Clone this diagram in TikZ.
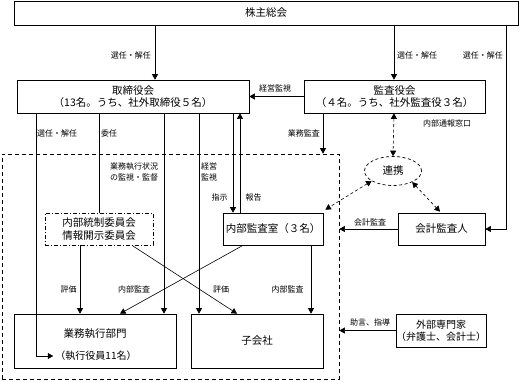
\documentclass[tikz,border=0pt]{standalone}
\usepackage{fontspec}
\setmainfont{Noto Sans CJK JP}
\usetikzlibrary{arrows.meta,shapes.geometric}
\begin{document}
\begin{tikzpicture}[x=1pt,y=-1pt,
 box/.style={draw,line width=0.7pt,rectangle,inner sep=0pt,align=center,font=\fontsize{10.5}{12.5}\selectfont},
 txt/.style={inner sep=0pt,align=center,font=\fontsize{10.5}{12.5}\selectfont},
 lab/.style={font=\fontsize{8}{11}\selectfont,inner sep=0pt,align=center},
 con/.style={line width=0.6pt},
 arr/.style={con,-{Triangle[length=5.5pt,width=6pt]}},
 darr/.style={con,dash pattern=on 3pt off 2.5pt,{Triangle[length=5.5pt,width=6pt]}-{Triangle[length=5.5pt,width=6pt]}},
]
\useasboundingbox (0,0) rectangle (519,381);
% group
\node[draw,line width=0.7pt,dash pattern=on 4pt off 3pt,minimum width=337pt,minimum height=225pt,inner sep=0pt] (grp) at (170.5,266.5) {};
% boxes
\node[box,minimum width=504pt,minimum height=24pt] (kabu) at (266,13) {株主総会};
\node[box,minimum width=232pt,minimum height=33pt] (tori) at (133,96.5) {取締役会\\（13名。うち、社外取締役５名）};
\node[box,minimum width=181pt,minimum height=33pt] (kansa) at (394.5,96.5) {監査役会\\（４名。うち、社外監査役３名）};
\node[box,minimum width=100pt,minimum height=32pt] (naibu) at (273,229) {内部監査室（３名）};
\node[box,dash pattern=on 4pt off 2pt on 1pt off 2pt,minimum width=108pt,minimum height=32pt] (tousei) at (99,229) {内部統制委員会\\情報開示委員会};
\node[box,minimum width=87pt,minimum height=32pt] (kaikei) at (441.5,229) {会計監査人};
\node[box,minimum width=162pt,minimum height=54pt] (gyomu) at (95,341) {};
\node[txt] (gyomut) at (95,334) {業務執行部門};
\node[txt,font=\fontsize{10}{12}\selectfont] (exec) at (96,356) {（執行役員11名）};
\node[box,minimum width=132pt,minimum height=54pt] (kogai) at (257,341) {子会社};
\node[box,minimum width=88pt,minimum height=33pt,font=\fontsize{10}{12}\selectfont] (gaibu) at (441,330.5) {外部専門家\\（弁護士、会計士）};
\node[draw,ellipse,line width=0.7pt,dash pattern=on 3pt off 2.5pt,minimum width=57pt,minimum height=29pt,inner sep=0pt,font=\fontsize{10.5}{12.5}\selectfont] (renkei) at (393,171) {連携};
% connectors from 株主総会
\draw[arr] (155,0 |- kabu.south) -- (155,0 |- tori.north);
\draw[arr] (394,0 |- kabu.south) -- (394,0 |- kansa.north);
\draw[arr] (506,0 |- kabu.south) |- (kaikei.east);
% 監査役会
\draw[arr] (kansa.west) -- (tori.east);
\draw[arr] (323,0 |- kansa.south) -- (323,0 |- grp.north);
\draw[darr] (394,0 |- kansa.south) -- (renkei.north);
\draw[darr] (renkei.205) -- ([xshift=2pt,yshift=3pt]naibu.north east);
\draw[darr] (renkei.330) -- ([xshift=-1.5pt,yshift=1pt]kaikei.north);
\draw[arr] (kaikei.west) -- (kaikei.west -| grp.east);
\draw[arr] (gaibu.west) -- (gaibu.west -| grp.east);
% 取締役会 down
\draw[arr] (36,0 |- tori.south) |- ([xshift=-2pt]exec.west);
\draw[con] (99,0 |- tori.south) -- (99,0 |- tousei.north);
\draw[arr] (164,0 |- tori.south) -- (164,0 |- gyomu.north);
\draw[arr] (199,0 |- tori.south) -- (199,0 |- kogai.north);
\draw[arr] (233,0 |- tori.south) -- (233,0 |- naibu.north);
\draw[arr] (240,0 |- naibu.north) -- (240,0 |- tori.south);
% to lower boxes
\draw[arr] (80,0 |- tousei.south) -- (80,0 |- gyomu.north);
\draw[arr] (132,0 |- tousei.south) -- (237,0 |- kogai.north);
\draw[arr] (243,0 |- naibu.south) -- (120,0 |- gyomu.north);
\draw[arr] (311,0 |- naibu.south) -- (311,0 |- kogai.north);
% labels
\node[lab,anchor=east] (l1) at (151,55) {選任・解任};
\node[lab,anchor=west] (l2) at (397,55) {選任・解任};
\node[lab,anchor=east] (l3) at (503,55) {選任・解任};
\node[lab] (l4) at (275,88) {経営監視};
\node[lab,anchor=east] (l5) at (320,133) {業務監査};
\node[lab] (l6) at (447,123) {内部通報窓口};
\node[lab] (l7) at (370,222) {会計監査};
\node[lab] (l8) at (370,322) {助言、指導};
\node[lab,anchor=west] (l9) at (37,133) {選任・解任};
\node[lab,anchor=west] (l10) at (101,133) {委任};
\node[lab,font=\fontsize{8}{11}\selectfont] (l11) at (134,171.5) {業務執行状況\\の監視・監督};
\node[lab,anchor=west,align=left] (l12) at (201,171.5) {経営\\監視};
\node[lab] (l13) at (219.5,197) {指示};
\node[lab] (l14) at (253.5,197) {報告};
\node[lab] (l15) at (68.5,289) {評価};
\node[lab] (l16) at (134,289) {内部監査};
\node[lab] (l17) at (221,289) {評価};
\node[lab] (l18) at (287.5,289) {内部監査};
\end{tikzpicture}
\end{document}
